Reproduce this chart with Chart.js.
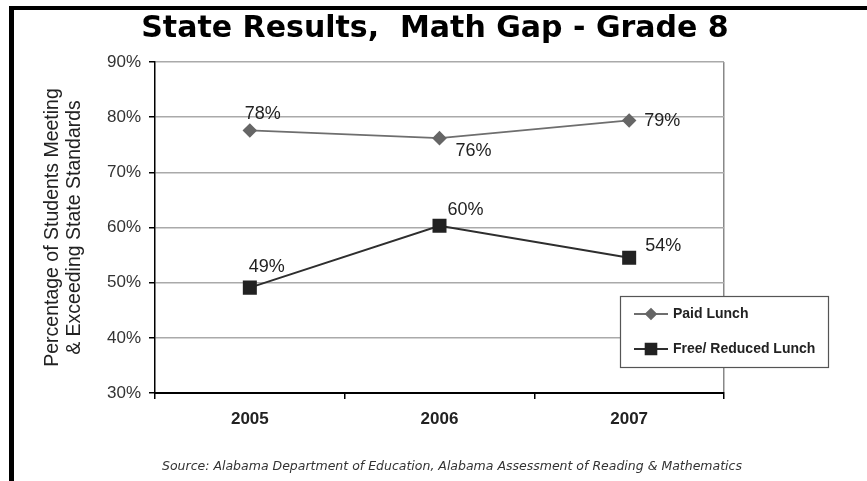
<!DOCTYPE html>
<html>
<head>
<meta charset="utf-8">
<script src="https://cdn.jsdelivr.net/npm/chart.js@4.4.1/dist/chart.umd.min.js"></script>
<style>
  html, body { margin: 0; padding: 0; background: #fff; }
  #wrap { position: relative; width: 867px; height: 481px; overflow: hidden; }
  #frame { position: absolute; left: 9px; top: 6px; right: 0; bottom: 0; border-top: 4px solid #000; border-left: 5px solid #000; }
  #title { position: absolute; left: 0; width: 870px; top: 9px; line-height: 34px; text-align: center; font: bold 30px "DejaVu Sans", sans-serif; color: #000; white-space: pre; }
  #source { position: absolute; left: 0; width: 904px; top: 458px; text-align: center; font: italic 12.5px "DejaVu Sans", sans-serif; color: #333; }
  canvas { position: absolute; left: 0; top: 0; }
</style>
</head>
<body>
<div id="wrap">
  <canvas id="gap-chart" width="867" height="481"></canvas>
  <div id="frame"></div>
  <div id="title"></div>
  <div id="source">Source: Alabama Department of Education, Alabama Assessment of Reading &amp; Mathematics</div>
</div>
<script>
// Chart data
const years = ["2005", "2006", "2007"];
const paidLunch = [77.6, 76.2, 79.4];
const freeLunch = [49.1, 60.3, 54.5];
const paidLabels = ["78%", "76%", "79%"];
const freeLabels = ["49%", "60%", "54%"];
const seriesNames = ["Paid Lunch", "Free/ Reduced Lunch"];
const chartTitle = "State Results,  Math Gap - Grade 8";
const yTitle = ["Percentage of Students Meeting", "& Exceeding State Standards"];

const FONT = "'Liberation Sans', Arial, sans-serif";

document.getElementById("title").textContent = chartTitle;

// value labels next to each point
const dataLabels = {
  id: "dataLabels",
  afterDatasetsDraw(chart) {
    const ctx = chart.ctx;
    ctx.save();
    ctx.font = "18px " + FONT;
    ctx.fillStyle = "#222";
    ctx.textAlign = "center";
    ctx.textBaseline = "middle";
    chart.data.datasets.forEach((ds, di) => {
      chart.getDatasetMeta(di).data.forEach((pt, i) => {
        const off = ds.labelOffsets[i];
        ctx.fillText(ds.valueLabels[i], pt.x + off[0], pt.y + off[1]);
      });
    });
    ctx.restore();
  }
};

// boxed legend sitting over the lower right corner of the plot
const boxLegend = {
  id: "boxLegend",
  afterDraw(chart, args, opts) {
    const ctx = chart.ctx;
    const { left, top, width, height } = opts;
    ctx.save();
    ctx.fillStyle = "#fff";
    ctx.fillRect(left, top, width, height);
    ctx.strokeStyle = "#555";
    ctx.lineWidth = 1.2;
    ctx.strokeRect(left + 0.5, top + 0.5, width, height);
    chart.data.datasets.forEach((ds, i) => {
      const y = top + 18 + i * 35;
      const x0 = left + 14;
      ctx.strokeStyle = ds.borderColor;
      ctx.lineWidth = ds.borderWidth;
      ctx.beginPath();
      ctx.moveTo(x0, y);
      ctx.lineTo(x0 + 34, y);
      ctx.stroke();
      ctx.fillStyle = ds.pointBackgroundColor;
      ctx.strokeStyle = ds.pointBorderColor;
      Chart.helpers.drawPoint(ctx, { pointStyle: ds.pointStyle, radius: ds.pointRadius - 1, borderWidth: 1, rotation: 0 }, x0 + 17, y);
      ctx.fillStyle = "#222";
      ctx.font = "bold 14px " + FONT;
      ctx.textAlign = "left";
      ctx.textBaseline = "middle";
      ctx.fillText(ds.label, x0 + 39, y);
    });
    ctx.restore();
  }
};

new Chart(document.getElementById("gap-chart"), {
  type: "line",
  data: {
    labels: years,
    datasets: [
      {
        label: seriesNames[0],
        data: paidLunch,
        valueLabels: paidLabels,
        labelOffsets: [[13, -16], [34, 13], [33, 1]],
        borderColor: "#6e6e6e",
        borderWidth: 1.8,
        pointStyle: "rectRot",
        pointRadius: 6,
        pointBackgroundColor: "#666",
        pointBorderColor: "#666",
        tension: 0,
      },
      {
        label: seriesNames[1],
        data: freeLunch,
        valueLabels: freeLabels,
        labelOffsets: [[17, -21], [26, -16], [34, -12]],
        borderColor: "#2e2e2e",
        borderWidth: 2,
        pointStyle: "rect",
        pointRadius: 8.5,
        pointBackgroundColor: "#222",
        pointBorderColor: "#222",
        tension: 0,
      },
    ],
  },
  options: {
    responsive: false,
    animation: false,
    layout: { padding: { left: 0, right: 143, top: 62, bottom: 48 } },
    plugins: {
      legend: { display: false },
      tooltip: { enabled: false },
      boxLegend: { left: 620, top: 296, width: 208, height: 71 },
    },
    scales: {
      x: {
        offset: true,
        grid: {
          offset: true,
          color: (c) => (c.type === "tick" ? "rgba(0,0,0,0)" : "#888"),
          tickColor: "#000",
          tickLength: 6,
          lineWidth: 1.5,
        },
        border: { color: "#000", width: 2 },
        ticks: { color: "#222", padding: 10, font: { family: FONT, size: 17, weight: "bold" } },
        afterFit: (s) => { s.height = 40; },
      },
      y: {
        min: 30,
        max: 90,
        ticks: { stepSize: 10, color: "#333", padding: 8, font: { family: FONT, size: 17 }, callback: (v) => v + "%" },
        grid: { color: "#aaa", lineWidth: 1.5, tickColor: "#000", tickLength: 6 },
        border: { color: "#000", width: 1.5 },
        title: {
          display: true,
          text: yTitle,
          color: "#222",
          font: { family: FONT, size: 19.5, lineHeight: 1.15 },
          padding: { top: 41, bottom: 0 },
        },
        afterFit: (s) => { s.width = 155; },
      },
    },
  },
  plugins: [dataLabels, boxLegend],
});
</script>
</body>
</html>
